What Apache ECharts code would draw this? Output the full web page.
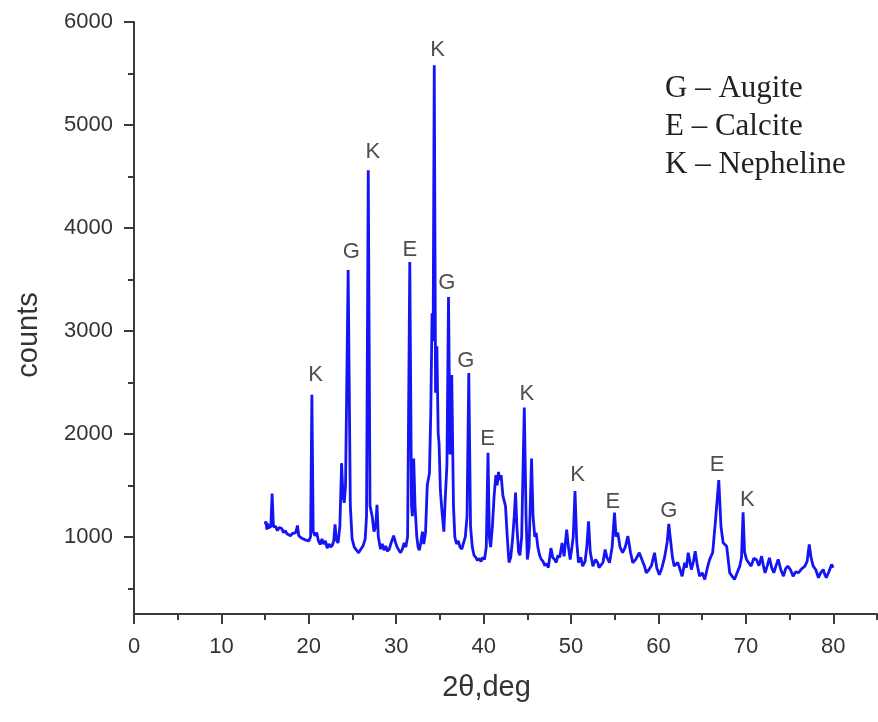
<!DOCTYPE html>
<html>
<head>
<meta charset="utf-8">
<title>XRD pattern</title>
<script src="https://cdn.jsdelivr.net/npm/echarts@6/dist/echarts.min.js"></script>
<style>
  html, body { margin: 0; padding: 0; background: #fff; }
  #chart { width: 878px; height: 722px; }
</style>
</head>
<body>
<div id="chart"></div>
<script>
// 2θ (deg) and counts
const twoTheta = [
  15.0, 15.1, 15.2, 15.3, 15.4, 15.5, 15.65, 15.8, 15.95, 16.2, 16.4, 16.6, 16.9, 17.1, 17.3, 17.5, 17.7, 17.9,
  18.1, 18.3, 18.5, 18.7, 18.85, 19.0, 19.2, 19.4, 19.6, 19.8, 20.0, 20.2, 20.35, 20.5, 20.7, 20.9,
  21.1, 21.3, 21.5, 21.7, 21.9, 22.1, 22.3, 22.5, 22.7, 22.85, 23.0, 23.15, 23.35, 23.55, 23.75, 23.9,
  24.05, 24.2, 24.5, 24.75, 24.95, 25.2, 25.45, 25.7, 25.95, 26.2, 26.45, 26.6, 26.8, 27.0, 27.25, 27.45,
  27.65, 27.8, 27.95, 28.2, 28.4, 28.6, 28.8, 29.0, 29.2, 29.45, 29.7, 29.9, 30.1, 30.3, 30.5, 30.7,
  30.9, 31.1, 31.3, 31.55, 31.75, 31.85, 32.0, 32.15, 32.35, 32.5, 32.65, 32.8, 33.0, 33.15, 33.35, 33.55,
  33.8, 33.95, 34.1, 34.22, 34.35, 34.5, 34.65, 34.8, 34.9, 35.05, 35.25, 35.45, 35.6, 35.8, 35.98, 36.15,
  36.35, 36.55, 36.7, 36.9, 37.1, 37.3, 37.5, 37.7, 37.9, 38.1, 38.3, 38.5, 38.7, 38.9, 39.1, 39.3,
  39.5, 39.7, 39.9, 40.1, 40.3, 40.5, 40.65, 40.8, 41.0, 41.2, 41.4, 41.55, 41.7, 41.85, 42.0, 42.2,
  42.35, 42.5, 42.7, 42.9, 43.1, 43.3, 43.5, 43.65, 43.8, 44.0, 44.15, 44.35, 44.65, 44.85, 45.0, 45.2,
  45.48, 45.65, 45.85, 46.0, 46.2, 46.4, 46.6, 46.8, 47.0, 47.2, 47.4, 47.7, 47.9, 48.1, 48.3, 48.5,
  48.7, 48.97, 49.2, 49.5, 49.7, 49.9, 50.1, 50.25, 50.45, 50.65, 50.85, 51.1, 51.33, 51.6, 51.8, 52.0,
  52.2, 52.5, 52.8, 53.05, 53.2, 53.4, 53.65, 53.9, 54.1, 54.4, 54.7, 54.97, 55.15, 55.35, 55.6, 55.9,
  56.2, 56.5, 56.8, 57.06, 57.4, 57.8, 58.1, 58.4, 58.6, 58.9, 59.2, 59.55, 59.8, 60.1, 60.4, 60.7,
  61.0, 61.18, 61.4, 61.6, 61.8, 62.0, 62.2, 62.4, 62.7, 63.0, 63.2, 63.4, 63.6, 63.76, 64.0, 64.2,
  64.45, 64.7, 65.0, 65.3, 65.6, 65.86, 66.2, 66.5, 66.9, 67.15, 67.4, 67.6, 67.8, 68.0, 68.15, 68.4,
  68.7, 69.0, 69.3, 69.5, 69.68, 69.85, 70.07, 70.3, 70.6, 70.9, 71.2, 71.5, 71.8, 72.0, 72.2, 72.45,
  72.7, 72.95, 73.2, 73.45, 73.7, 74.0, 74.3, 74.55, 74.8, 75.1, 75.4, 75.7, 76.0, 76.4, 76.75, 77.0,
  77.25, 77.45, 77.7, 78.0, 78.3, 78.55, 78.85, 79.0, 79.2, 79.5, 79.8, 80.0
]
const counts = [
  1120, 1150, 1070, 1130, 1080, 1110, 1090, 1420, 1100, 1100, 1060, 1090, 1080, 1040, 1060, 1030, 1045, 1010,
  1030, 1015, 1040, 1110, 1010, 1000, 985, 1000, 970, 980, 960, 1000, 2380, 1050, 1010, 1040,
  960, 925, 980, 930, 960, 890, 930, 900, 920, 960, 1120, 970, 940, 1100, 1715, 1400,
  1330, 1500, 3590, 1300, 980, 900, 870, 845, 880, 910, 980, 1200, 4560, 1300, 1200, 1050,
  1100, 1310, 1000, 880, 930, 870, 910, 860, 880, 950, 1010, 950, 900, 870, 845, 880,
  940, 900, 1000, 3670, 1300, 1200, 1760, 1300, 1000, 900, 870, 940, 1050, 930, 1040, 1500,
  1620, 2200, 3170, 2900, 5580, 2400, 2850, 2000, 1910, 1450, 1230, 1050, 1360, 1700, 3330, 1800,
  2570, 1300, 1000, 930, 960, 900, 880, 940, 1000, 1200, 2590, 1100, 900, 820, 800, 770,
  790, 760, 800, 780, 900, 1815, 1000, 900, 1100, 1400, 1600, 1500, 1630, 1550, 1600, 1400,
  1410, 1297, 1000, 750, 800, 970, 1200, 1430, 1100, 850, 820, 1000, 2255, 1200, 780, 900,
  1760, 1200, 1000, 1040, 900, 820, 780, 760, 720, 740, 700, 890, 800, 780, 750, 820,
  800, 940, 810, 1070, 900, 780, 900, 1000, 1445, 950, 750, 800, 715, 760, 900, 1150,
  850, 715, 780, 748, 700, 682, 750, 877, 800, 748, 900, 1235, 1000, 1040, 900, 845,
  900, 1006, 850, 748, 780, 845, 780, 715, 650, 680, 720, 845, 700, 630, 700, 800,
  950, 1125, 950, 800, 715, 715, 750, 700, 617, 748, 700, 845, 760, 682, 760, 860,
  720, 617, 650, 585, 700, 780, 845, 1136, 1550, 1100, 942, 960, 909, 760, 650, 620,
  585, 650, 715, 800, 1238, 850, 780, 750, 715, 790, 780, 720, 812, 720, 650, 720,
  796, 700, 650, 720, 780, 680, 617, 690, 715, 680, 617, 660, 650, 690, 715, 760,
  925, 800, 715, 680, 602, 650, 682, 640, 602, 660, 731, 700
]

// phase marks above the peaks
const markX = [20.76, 24.86, 27.31, 31.57, 34.72, 35.79, 37.96, 40.44, 44.93, 50.76, 54.77, 61.18, 66.72, 70.16]
const markY = [2576, 3770, 4741, 3790, 5732, 3469, 2712, 1954, 2387, 1605, 1338, 1255, 1702, 1362]
const markText = ['K', 'G', 'K', 'E', 'K', 'G', 'G', 'E', 'K', 'K', 'E', 'G', 'E', 'K']

// axis ticks
const xLabels = [0, 10, 20, 30, 40, 50, 60, 70, 80]
const xMinor = [5, 15, 25, 35, 45, 55, 65, 75, 85]
const yLabels = [1000, 2000, 3000, 4000, 5000, 6000]
const yMinor = [500, 1500, 2500, 3500, 4500, 5500]

const legendLines = ['G – Augite', 'E – Calcite', 'K – Nepheline']

const chart = echarts.init(document.getElementById('chart'), null, { renderer: 'canvas' })

const axisColor = '#3a3a3a'
const sans = 'Liberation Sans, Arial, sans-serif'
const labelFont = { color: '#333', fontSize: 22, fontFamily: sans, formatter: v => String(v) }

const option = {
  animation: false,
  backgroundColor: '#fff',
  grid: { left: 134, right: 1, top: 22, bottom: 108 },
  xAxis: [
    {
      type: 'value',
      min: 0,
      max: 85,
      position: 'bottom',
      name: '2θ,deg',
      nameLocation: 'middle',
      nameGap: 59,
      // right padding moves the title a bit left of the axis centre
      nameTextStyle: { color: '#333', fontSize: 29, fontFamily: sans, padding: [0, 38, 0, 0] },
      axisLine: { show: true, lineStyle: { color: axisColor, width: 2 } },
      axisTick: { show: true, length: 10, lineStyle: { color: axisColor, width: 2 }, customValues: xLabels },
      axisLabel: { margin: 22, ...labelFont, customValues: xLabels },
      splitLine: { show: false }
    },
    {
      type: 'value',
      min: 0,
      max: 85,
      position: 'bottom',
      axisLine: { show: false },
      axisTick: { show: true, length: 6, lineStyle: { color: axisColor, width: 2 }, customValues: xMinor },
      axisLabel: { show: false },
      splitLine: { show: false }
    }
  ],
  yAxis: [
    {
      type: 'value',
      min: 250,
      max: 6000,
      position: 'left',
      name: 'counts',
      nameLocation: 'middle',
      nameGap: 91,
      nameTextStyle: { color: '#333', fontSize: 29, fontFamily: sans, padding: [0, 34, 0, 0] },
      axisLine: { show: true, lineStyle: { color: axisColor, width: 2 } },
      axisTick: { show: true, length: 10, lineStyle: { color: axisColor, width: 2 }, customValues: yLabels },
      axisLabel: { margin: 21, ...labelFont, customValues: yLabels },
      splitLine: { show: false }
    },
    {
      type: 'value',
      min: 250,
      max: 6000,
      position: 'left',
      axisLine: { show: false },
      axisTick: { show: true, length: 6, lineStyle: { color: axisColor, width: 2 }, customValues: yMinor },
      axisLabel: { show: false },
      splitLine: { show: false }
    }
  ],
  graphic: legendLines.map((t, i) => ({
    type: 'text',
    left: 665,
    top: 73 + i * 38,
    style: {
      text: t,
      fill: '#222',
      font: '31px "Liberation Serif", "Times New Roman", serif'
    }
  })),
  series: [
    {
      type: 'line',
      xAxisIndex: 0,
      yAxisIndex: 0,
      data: twoTheta.map((x, i) => [x, counts[i]]),
      showSymbol: false,
      symbol: 'none',
      lineStyle: { color: '#1414f5', width: 2.8 },
      silent: true
    },
    {
      type: 'scatter',
      xAxisIndex: 0,
      yAxisIndex: 0,
      data: markX.map((x, i) => [x, markY[i], markText[i]]),
      symbolSize: 1,
      itemStyle: { color: 'rgba(0,0,0,0)' },
      label: {
        show: true,
        position: 'inside',
        formatter: p => p.value[2],
        color: '#222',
        fontSize: 22,
        fontFamily: sans
      },
      silent: true
    }
  ]
}

chart.setOption(option)
</script>
</body>
</html>
